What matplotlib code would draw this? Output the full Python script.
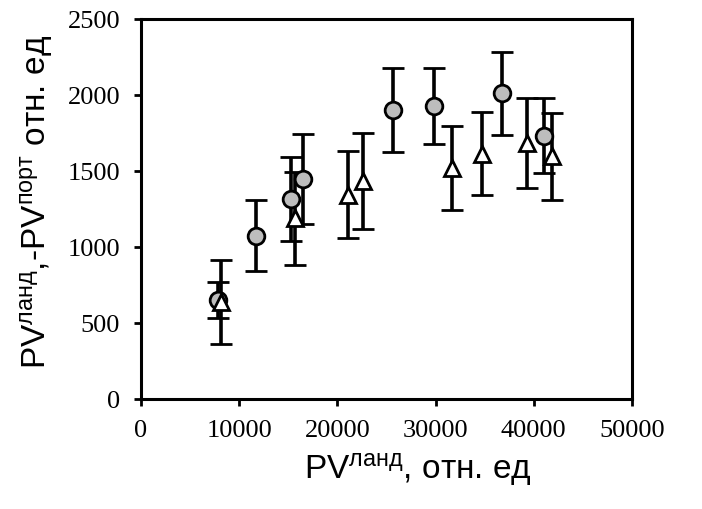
import matplotlib
matplotlib.use("Agg")
import matplotlib.pyplot as plt

# Circles series
circ_x = [7810, 11700, 15240, 16490, 25690, 29790, 36740, 41080]
circ_y = [650, 1075, 1315, 1447, 1901, 1927, 2011, 1733]
circ_err = [120, 235, 278, 297, 279, 248, 275, 245]

# Triangles series
tri_x = [8160, 15700, 21110, 22570, 31700, 34760, 39270, 41840]
tri_y = [639, 1189, 1344, 1432, 1520, 1614, 1685, 1597]
tri_err = [275, 305, 287, 316, 276, 275, 298, 287]

x_ticks = [0, 10000, 20000, 30000, 40000, 50000]
y_ticks = [0, 500, 1000, 1500, 2000, 2500]

plt.rcParams['mathtext.default'] = 'regular'

fig = plt.figure(figsize=(7.02, 5.10), dpi=100)
ax = fig.add_axes([141/702, 1-400/510, 491/702, 380/510])

eb_kw = dict(ecolor='black', elinewidth=2.6, capsize=8, capthick=2.6, linestyle='none')
ax.errorbar(circ_x, circ_y, yerr=circ_err, marker='o', markersize=12,
            markerfacecolor='#bdbdbd', markeredgecolor='black', markeredgewidth=2,
            zorder=3, **eb_kw)
ax.errorbar(tri_x, tri_y, yerr=tri_err, marker='^', markersize=11,
            markerfacecolor='white', markeredgecolor='black', markeredgewidth=2,
            zorder=3, **eb_kw)

ax.set_xlim(0, 50000)
ax.set_ylim(0, 2500)
ax.set_xticks(x_ticks)
ax.set_yticks(y_ticks)
ax.set_xticklabels([str(v) for v in x_ticks], fontfamily='Liberation Serif', fontsize=19)
ax.set_yticklabels([str(v) for v in y_ticks], fontfamily='Liberation Serif', fontsize=19)
ax.tick_params(direction='out', length=5, width=2)
ax.tick_params(axis='x', pad=9.5)
ax.tick_params(axis='y', pad=10)
for s in ax.spines.values():
    s.set_linewidth(2.2)

ax.set_xlabel('PV$^{ланд}$, отн. ед', fontfamily='Liberation Sans', fontsize=24)
ax.set_ylabel('PV$^{ланд}$,-PV$^{порт}$ отн. ед', fontfamily='Liberation Sans', fontsize=24)
ax.xaxis.set_label_coords(0.564, -0.135)
ax.yaxis.set_label_coords(-0.175, 0.52)

fig.savefig('out.png', dpi=100)
